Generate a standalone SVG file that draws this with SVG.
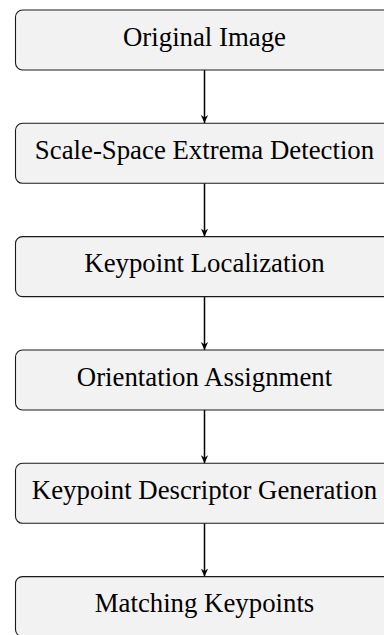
<svg xmlns="http://www.w3.org/2000/svg" width="384" height="635" viewBox="0 0 384 635">
<style>
.box{fill:#f2f2f2;stroke:#1a1a1a;stroke-width:1.1}
.lbl{font-family:"Liberation Serif","Times New Roman",serif;font-size:26.8px;fill:#000;text-anchor:middle}
.edge{stroke:#000;stroke-width:1.5;fill:none;marker-end:url(#ah)}
</style>
<defs>
<marker id="ah" viewBox="0 0 10 10" refX="10" refY="5" markerWidth="8" markerHeight="8" markerUnits="userSpaceOnUse" orient="auto">
<path d="M0,0.5 L10,5 L0,9.5 L3,5 Z" fill="#000"/>
</marker>
</defs>
<rect width="384" height="635" fill="#fff"/>
<g id="connectors">
<line class="edge" x1="204.5" y1="70" x2="204.5" y2="123"/>
<line class="edge" x1="204.5" y1="183.3" x2="204.5" y2="236.6"/>
<line class="edge" x1="204.5" y1="296.6" x2="204.5" y2="350"/>
<line class="edge" x1="204.5" y1="410" x2="204.5" y2="463.3"/>
<line class="edge" x1="204.5" y1="523.3" x2="204.5" y2="576.6"/>
</g>
<g id="n1"><rect class="box" x="15.5" y="10" width="378" height="60" rx="7"/><text class="lbl" x="204.5" y="46">Original Image</text></g>
<g id="n2"><rect class="box" x="15.5" y="123.3" width="378" height="60" rx="7"/><text class="lbl" x="204.5" y="159">Scale-Space Extrema Detection</text></g>
<g id="n3"><rect class="box" x="15.5" y="236.6" width="378" height="60" rx="7"/><text class="lbl" x="204.5" y="272.3">Keypoint Localization</text></g>
<g id="n4"><rect class="box" x="15.5" y="350" width="378" height="60" rx="7"/><text class="lbl" x="204.5" y="385.7">Orientation Assignment</text></g>
<g id="n5"><rect class="box" x="15.5" y="463.3" width="378" height="60" rx="7"/><text class="lbl" x="204.5" y="499">Keypoint Descriptor Generation</text></g>
<g id="n6"><rect class="box" x="15.5" y="576.6" width="378" height="60" rx="7"/><text class="lbl" x="204.5" y="612.3">Matching Keypoints</text></g>
</svg>
